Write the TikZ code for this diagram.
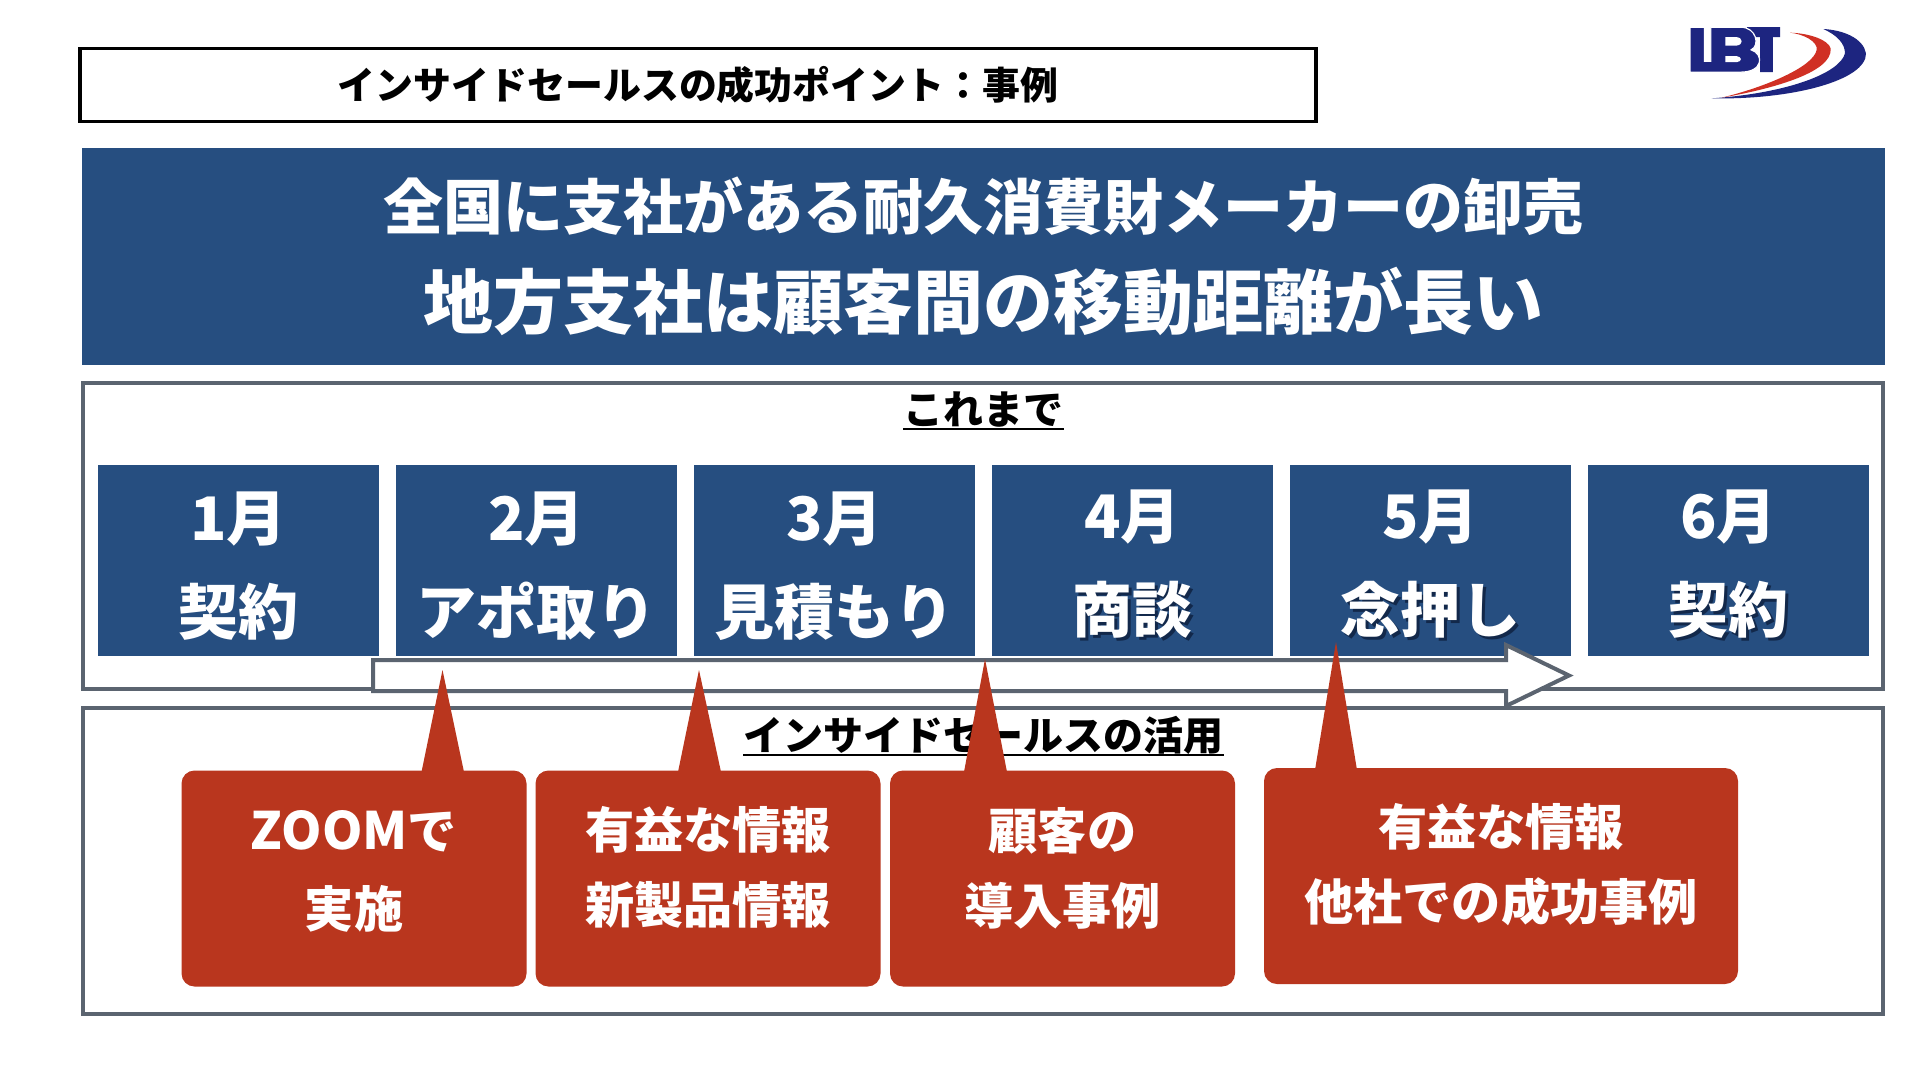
\documentclass[tikz,border=0pt]{standalone}
\usepackage{fontspec}
\setmainfont{Noto Sans CJK JP}
\usetikzlibrary{calc}
\definecolor{navybox}{HTML}{264E80}
\definecolor{brick}{HTML}{B9361E}
\definecolor{slateline}{HTML}{5B6470}
\definecolor{logonavy}{HTML}{1D2580}
\definecolor{logored}{HTML}{D03024}
\definecolor{textshade}{HTML}{12284A}
\tikzset{
  outline/.style={draw=slateline,line width=3.5pt,fill=white},
  monthbox/.style={fill=navybox,inner sep=0pt,minimum height=191pt,minimum width=281pt,anchor=north west},
  monthtext/.style={inner sep=0pt,text=white,align=center,font=\fontsize{60}{94}\selectfont\bfseries},
  calloutbox/.style={fill=brick,rounded corners=13pt,inner sep=0pt,minimum height=216pt},
  callouttext/.style={inner sep=0pt,text=white,align=center,font=\fontsize{49.2}{75}\selectfont\bfseries},
  subhead/.style={inner sep=0pt,font=\fontsize{40}{40}\selectfont\bfseries},
}
\newcommand{\monthcell}[4]{%
  \node[monthbox] (#1) at (#2,465) {};
  \node[monthtext] (#1t) at ([yshift=-5pt]#1.center) {#3\\#4};}
\newcommand{\shadedtext}[1]{\leavevmode\rlap{\hspace{3pt}\raisebox{-3pt}{\textcolor{textshade}{#1}}}#1}
\begin{document}
\begin{tikzpicture}[x=1pt,y=-1pt]
\useasboundingbox (0,0) rectangle (1920,1080);
\fill[white] (0,0) rectangle (1920,1080);

% heading
\node[draw=black,line width=3.5pt,fill=white,minimum width=1236pt,minimum height=73pt,inner sep=0pt,
  font=\fontsize{37.9}{38}\selectfont\bfseries] (heading) at (698,85) {インサイドセールスの成功ポイント：事例};

% logo
\begin{scope}[shift={(1682.8,20.5)},x=.36pt,y=-.3333pt]
  \fill[logonavy] (178,20) -- (270,20) -- (270,50) -- (250,50) -- (250,155) -- (215,155) -- (215,50) -- (178,50) -- cycle;
  \filldraw[fill=logonavy,draw=white,line width=1.2pt] (20,20) -- (60,20) -- (60,122) -- (78,122) -- (78,20) -- (160,20)
    .. controls (205,20) and (215,75) .. (190,88)
    .. controls (225,100) and (225,155) .. (160,155) -- (20,155) -- cycle;
  \fill[white] (118,50) -- (150,50) .. controls (168,52) and (168,73) .. (150,75) -- (118,75) -- cycle;
  \fill[white] (118,107) -- (150,107) .. controls (165,109) and (165,123) .. (150,125) -- (118,125) -- cycle;
\end{scope}
\begin{scope}[shift={(1660,10)},x=.3333pt,y=-.3333pt]
  \fill[logonavy] (155,265) .. controls (400,270) and (620,210) .. (618,130)
    .. controls (610,85) and (550,60) .. (490,57)
    .. controls (530,75) and (555,100) .. (555,130)
    .. controls (540,190) and (380,250) .. (155,265) -- cycle;
  \fill[logored] (185,263) .. controls (320,240) and (520,190) .. (512,115)
    .. controls (505,90) and (450,70) .. (390,68)
    .. controls (430,72) and (475,95) .. (470,120)
    .. controls (460,170) and (320,230) .. (185,263) -- cycle;
\end{scope}

% banner
\node[fill=navybox,minimum width=1803pt,minimum height=217pt,inner sep=0pt,text=white,align=center,
  font=\bfseries] (banner) at (983.5,256.5)
  {\fontsize{60}{96}\selectfont 全国に支社がある耐久消費財メーカーの卸売\\[30pt]
   \fontsize{70}{96}\selectfont 地方支社は顧客間の移動距離が長い};

% panels
\node[outline,minimum width=1800pt,minimum height=306pt,inner sep=0pt] (before) at (983,536) {};
\node[outline,minimum width=1800pt,minimum height=306pt,inner sep=0pt] (after) at (983,861) {};

\node[subhead] (beforehead) at (983.5,409) {これまで};
\draw[line width=2.5pt] ([yshift=-5pt]beforehead.base west) -- ([yshift=-5pt]beforehead.base east);

% month boxes
\monthcell{m1}{98}{1月}{契約}
\monthcell{m2}{396}{2月}{アポ取り}
\monthcell{m3}{694}{3月}{見積もり}
\monthcell{m4}{992}{4月}{\shadedtext{商談}}
\monthcell{m5}{1290}{5月}{\shadedtext{念押し}}
\monthcell{m6}{1588}{6月}{\shadedtext{契約}}

% timeline arrow
\draw[draw=slateline,line width=4pt,fill=white,miter limit=10]
  (373,660) -- (1506,660) -- (1506,645) -- (1569,675.5) -- (1506,706) -- (1506,691) -- (373,691) -- cycle;

\node[subhead] (afterhead) at (983.5,735) {インサイドセールスの活用};
\draw[line width=2.5pt] ([yshift=-5pt]afterhead.base west) -- ([yshift=-5pt]afterhead.base east);

% callouts
\node[calloutbox,minimum width=345pt] (c1) at (354,878.5) {};
\node[calloutbox,minimum width=345pt] (c2) at (708,878.5) {};
\node[calloutbox,minimum width=345pt] (c3) at (1062.5,878.5) {};
\node[calloutbox,minimum width=474pt] (c4) at (1501,876) {};
\node[callouttext,font=\fontsize{49.2}{78}\selectfont\bfseries] (c1t) at ([yshift=7pt]c1.center) {{\fontsize{51.5}{78}\selectfont ZOOM}で\\実施};
\node[callouttext] (c2t) at ([yshift=11pt]c2.center) {有益な情報\\新製品情報};
\node[callouttext] (c3t) at ([yshift=10.5pt]c3.center) {顧客の\\導入事例};
\node[callouttext] (c4t) at ([yshift=11pt]c4.center) {有益な情報\\他社での成功事例};

\fill[brick] (421.5,772) -- (442.5,670) -- (464,772) -- cycle;
\fill[brick] (678,772) -- (699,670) -- (721,772) -- cycle;
\fill[brick] (964,772) -- (985,659) -- (1007,772) -- cycle;
\fill[brick] (1315,770) -- (1336,642) -- (1357,770) -- cycle;
\end{tikzpicture}
\end{document}
